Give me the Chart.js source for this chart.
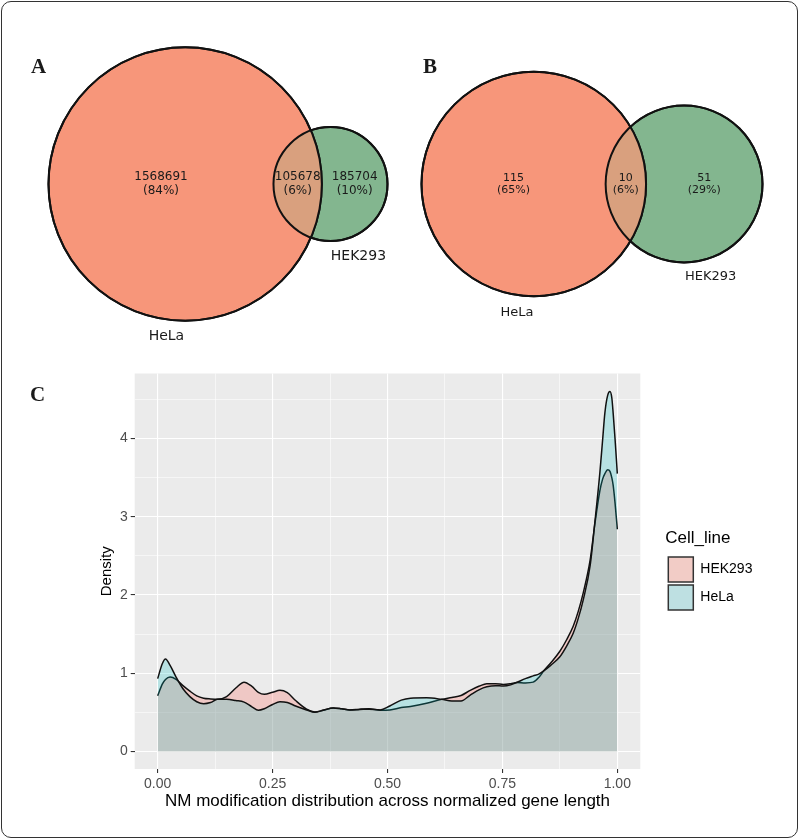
<!DOCTYPE html>
<html lang="en">
<head>
  <meta charset="UTF-8">
  <title>NM modification sites: HeLa vs HEK293</title>
  <script src="https://cdn.jsdelivr.net/npm/chart.js"></script>
  <style>
    body {
      margin: 0;
      background: #fff;
      font-family: 'Liberation Sans', Arial, sans-serif;
    }
    .page {
      position: relative;
      width: 800px;
      height: 839px;
    }
    .frame {
      position: absolute;
      left: 1px;
      top: 1px;
      width: 797px;
      height: 837px;
      box-sizing: border-box;
      border: 1.5px solid #333;
      border-radius: 10px;
    }
    canvas {
      position: absolute;
    }
    .tag {
      position: absolute;
      font: bold 21px 'Liberation Serif', 'Times New Roman', serif;
      line-height: 1;
      color: #1a1a1a;
    }
  </style>
</head>
<body>
  <div class="page">
    <div class="frame"></div>
    <canvas id="vennSites" width="400" height="360" style="left:0;top:0"></canvas>
    <canvas id="vennGenes" width="400" height="360" style="left:400px;top:0"></canvas>
    <canvas id="density" width="800" height="475" style="left:0;top:360px"></canvas>
    <div class="tag" style="left:31px;top:56px">A</div>
    <div class="tag" style="left:423px;top:56px">B</div>
    <div class="tag" style="left:30px;top:384px">C</div>
  </div>

  <script>
    // ---- data ----
    const setNames = ['HeLa', 'HEK293'];
    // region counts: [HeLa only, shared, HEK293 only]
    const siteCounts = [1568691, 105678, 185704];
    const geneCounts = [115, 10, 51];

    const cellLines = ['HEK293', 'HeLa'];
    const genePos = [0, 0.01, 0.017, 0.027, 0.04, 0.055, 0.07, 0.085, 0.1, 0.115,
      0.13, 0.15, 0.17, 0.188, 0.205, 0.219, 0.232, 0.25, 0.266, 0.282,
      0.3, 0.324, 0.342, 0.36, 0.382, 0.4, 0.418, 0.44, 0.46, 0.484,
      0.505, 0.53, 0.55, 0.585, 0.618, 0.64, 0.66, 0.68, 0.7, 0.716,
      0.735, 0.752, 0.768, 0.781, 0.8, 0.817, 0.83, 0.84, 0.855, 0.875,
      0.89, 0.904, 0.915, 0.926, 0.941, 0.951, 0.962, 0.968, 0.973, 0.979,
      0.984, 0.988, 0.991, 0.995, 1];
    const densityHEK293 = [0.71, 0.86, 0.92, 0.95, 0.92, 0.84, 0.77, 0.71, 0.68, 0.67,
      0.665, 0.70, 0.81, 0.885, 0.83, 0.755, 0.73, 0.755, 0.78, 0.75,
      0.65, 0.54, 0.505, 0.525, 0.555, 0.545, 0.53, 0.54, 0.545, 0.525,
      0.53, 0.56, 0.575, 0.615, 0.665, 0.69, 0.715, 0.78, 0.835, 0.865,
      0.865, 0.855, 0.865, 0.88, 0.875, 0.885, 0.95, 1.03, 1.13, 1.28,
      1.43, 1.6, 1.79, 2.03, 2.45, 2.9, 3.33, 3.48, 3.55, 3.6,
      3.58, 3.5, 3.4, 3.18, 2.84];
    const densityHeLa = [0.93, 1.12, 1.18, 1.1, 0.95, 0.8, 0.7, 0.635, 0.61, 0.625,
      0.665, 0.665, 0.65, 0.63, 0.57, 0.525, 0.545, 0.6, 0.635, 0.625,
      0.58, 0.53, 0.5, 0.525, 0.555, 0.545, 0.53, 0.535, 0.54, 0.53,
      0.58, 0.655, 0.68, 0.685, 0.665, 0.645, 0.645, 0.72, 0.79, 0.825,
      0.84, 0.835, 0.85, 0.88, 0.93, 0.965, 0.99, 1.03, 1.1, 1.21,
      1.35, 1.51, 1.7, 1.94, 2.38, 2.92, 3.56, 3.98, 4.33, 4.55,
      4.6, 4.52, 4.32, 4.0, 3.55];
    const xTicks = [0, 0.25, 0.5, 0.75, 1];
    const yTicks = [0, 1, 2, 3, 4];

    Chart.defaults.font.family = "'Liberation Sans', Arial, sans-serif";

    // ---- venn helpers ----
    function lensArea(r1, r2, d) {
      if (d >= r1 + r2) return 0;
      if (d <= Math.abs(r1 - r2)) return Math.PI * Math.min(r1, r2) ** 2;
      const a1 = Math.acos((d * d + r1 * r1 - r2 * r2) / (2 * d * r1));
      const a2 = Math.acos((d * d + r2 * r2 - r1 * r1) / (2 * d * r2));
      const k = Math.sqrt((-d + r1 + r2) * (d + r1 - r2) * (d - r1 + r2) * (d + r1 + r2));
      return r1 * r1 * a1 + r2 * r2 * a2 - k / 2;
    }

    // distance between centres so that the lens area equals the shared count
    function centreDistance(r1, r2, shared) {
      let lo = Math.abs(r1 - r2), hi = r1 + r2;
      for (let i = 0; i < 60; i++) {
        const mid = (lo + hi) / 2;
        if (lensArea(r1, r2, mid) > shared) lo = mid; else hi = mid;
      }
      return (lo + hi) / 2;
    }

    const unitPx = chart => chart.scales.x.getPixelForValue(1) - chart.scales.x.getPixelForValue(0);
    const rad = deg => deg * Math.PI / 180;

    const vennText = {
      id: 'vennText',
      afterDatasetsDraw(chart, args, o) {
        const ctx = chart.ctx;
        const a = chart.getDatasetMeta(0).data[0];
        const b = chart.getDatasetMeta(1).data[0];
        const ra = a.options.radius, rb = b.options.radius;

        // shared region
        ctx.save();
        ctx.beginPath();
        ctx.arc(a.x, a.y, ra, 0, Math.PI * 2);
        ctx.clip();
        ctx.beginPath();
        ctx.arc(b.x, b.y, rb, 0, Math.PI * 2);
        ctx.fillStyle = o.lensColor;
        ctx.fill();
        ctx.restore();

        ctx.save();
        ctx.lineWidth = 2;
        ctx.strokeStyle = '#111';
        [[a, ra], [b, rb]].forEach(([p, r]) => {
          ctx.beginPath();
          ctx.arc(p.x, p.y, r, 0, Math.PI * 2);
          ctx.stroke();
        });

        const total = o.counts.reduce((s, v) => s + v, 0);
        const xs = [
          (a.x - ra + b.x - rb) / 2,
          (b.x - rb + a.x + ra) / 2,
          (a.x + ra + b.x + rb) / 2
        ];
        ctx.fillStyle = '#1a1a1a';
        ctx.textAlign = 'center';
        ctx.textBaseline = 'middle';
        ctx.font = o.numSize + 'px "DejaVu Sans"';
        o.counts.forEach((c, i) => {
          ctx.fillText(String(c), xs[i], a.y - o.gap / 2);
          ctx.fillText('(' + Math.round(c / total * 100) + '%)', xs[i], a.y + o.gap / 2);
        });

        ctx.font = o.nameSize + 'px "DejaVu Sans"';
        [[a, ra], [b, rb]].forEach(([p, r], i) => {
          const d = r + o.nameOff[i], t = rad(o.nameAngle[i]);
          ctx.fillText(o.names[i], p.x + d * Math.sin(t), p.y + d * Math.cos(t));
        });
        ctx.restore();
      }
    };

    function makeVenn(id, counts, place, text) {
      const r1 = Math.sqrt((counts[0] + counts[1]) / Math.PI);
      const r2 = Math.sqrt((counts[2] + counts[1]) / Math.PI);
      const d = centreDistance(r1, r2, counts[1]);
      const canvas = document.getElementById(id);
      const s = place.width / (r1 + d + r2);
      const mid = (d + r2 - r1) / 2;

      return new Chart(canvas, {
        type: 'scatter',
        data: {
          datasets: [
            { label: setNames[0], data: [{ x: 0, y: 0, r: r1 }], pointBackgroundColor: '#F7967A' },
            { label: setNames[1], data: [{ x: d, y: 0, r: r2 }], pointBackgroundColor: '#83B68F' }
          ]
        },
        options: {
          responsive: false,
          animation: false,
          events: [],
          layout: { padding: 0 },
          datasets: {
            scatter: {
              clip: false,
              pointBorderColor: '#111',
              pointBorderWidth: 2,
              pointRadius: ctx => ctx.raw ? ctx.raw.r * unitPx(ctx.chart) : 0
            }
          },
          scales: {
            x: { type: 'linear', display: false, bounds: 'data',
                 min: mid - place.cx / s, max: mid + (canvas.width - place.cx) / s },
            y: { type: 'linear', display: false, bounds: 'data',
                 min: -(canvas.height - place.cy) / s, max: place.cy / s }
          },
          plugins: {
            legend: { display: false },
            tooltip: { enabled: false },
            vennText: Object.assign({ counts, names: setNames, lensColor: '#D9A07E' }, text)
          }
        },
        plugins: [vennText]
      });
    }

    makeVenn('vennSites', siteCounts, { width: 339, cx: 218, cy: 184 },
      { numSize: 12, gap: 14, nameSize: 14, nameAngle: [-7, 21], nameOff: [17, 21] });
    makeVenn('vennGenes', geneCounts, { width: 341, cx: 192, cy: 184 },
      { numSize: 11, gap: 12.6, nameSize: 13, nameAngle: [-7.5, 16], nameOff: [17, 18] });

    // ---- density panel ----
    const near = (a, b) => Math.abs(a - b) < 1e-9;
    const isMajor = (v, major) => major.some(m => near(m, v));

    function gridTicks(scale, major) {
      const step = (major[1] - major[0]) / 2;
      const vals = [];
      for (let v = major[0] - step; v <= scale.max + 1e-9; v += step) {
        if (v >= scale.min) vals.push(Math.round(v * 1000) / 1000);
      }
      scale.ticks = vals.map(v => ({ value: v }));
    }

    const panelBg = {
      id: 'panelBg',
      beforeDraw(chart) {
        const { ctx, chartArea: a } = chart;
        ctx.save();
        ctx.fillStyle = '#EBEBEB';
        ctx.fillRect(a.left, a.top, a.right - a.left, a.bottom - a.top);
        ctx.restore();
      }
    };

    const legendFill = ['#F2CCC6', '#BEE0E2'];

    const densityChart = new Chart(document.getElementById('density'), {
      type: 'line',
      data: {
        datasets: [
          {
            label: cellLines[0],
            data: genePos.map((x, i) => ({ x, y: densityHEK293[i] })),
            backgroundColor: 'rgba(248, 118, 109, 0.3)',
            order: 1
          },
          {
            label: cellLines[1],
            data: genePos.map((x, i) => ({ x, y: densityHeLa[i] })),
            backgroundColor: 'rgba(0, 191, 196, 0.22)',
            order: 0
          }
        ]
      },
      options: {
        responsive: false,
        animation: false,
        events: [],
        layout: { padding: { top: 13.5, bottom: 19.1, left: 93.5, right: 40 } },
        datasets: {
          line: {
            fill: 'origin',
            borderColor: '#111',
            borderWidth: 1.5,
            pointRadius: 0,
            cubicInterpolationMode: 'monotone'
          }
        },
        scales: {
          x: {
            type: 'linear',
            position: 'bottom',
            min: -0.05,
            max: 1.05,
            bounds: 'data',
            afterBuildTicks: s => gridTicks(s, xTicks),
            afterFit: s => { s.height = 46.9; },
            ticks: {
              autoSkip: false,
              maxRotation: 0,
              padding: 3,
              color: '#4D4D4D',
              font: { size: 14 },
              callback: v => isMajor(v, xTicks) ? v.toFixed(2) : ''
            },
            grid: {
              color: '#fff',
              lineWidth: c => isMajor(c.tick.value, xTicks) ? 1.1 : 0.55,
              tickLength: 4,
              tickWidth: 1.1,
              tickColor: c => isMajor(c.tick.value, xTicks) ? '#333' : 'rgba(0,0,0,0)'
            },
            border: { display: false },
            title: {
              display: true,
              text: 'NM modification distribution across normalized gene length',
              color: '#000',
              font: { size: 17 },
              padding: { top: 4, bottom: 4 }
            }
          },
          y: {
            type: 'linear',
            min: -0.225,
            max: 4.83,
            bounds: 'data',
            afterBuildTicks: s => gridTicks(s, yTicks),
            afterFit: s => { s.width = 41.2; },
            ticks: {
              autoSkip: false,
              padding: 3,
              color: '#4D4D4D',
              font: { size: 14 },
              callback: v => isMajor(v, yTicks) ? String(v) : ''
            },
            grid: {
              color: '#fff',
              lineWidth: c => isMajor(c.tick.value, yTicks) ? 1.1 : 0.55,
              tickLength: 4,
              tickWidth: 1.1,
              tickColor: c => isMajor(c.tick.value, yTicks) ? '#333' : 'rgba(0,0,0,0)'
            },
            border: { display: false },
            title: {
              display: true,
              text: 'Density',
              color: '#000',
              font: { size: 15 },
              padding: { top: 4, bottom: 4 }
            }
          },
          // spacer between the panel and the legend
          gap: {
            position: 'right',
            grid: { display: false },
            ticks: { display: false },
            border: { display: false },
            afterFit: s => { s.width = 25; }
          }
        },
        plugins: {
          tooltip: { enabled: false },
          legend: {
            position: 'right',
            fullSize: false,
            align: 'center',
            title: {
              display: true,
              text: 'Cell_line',
              position: 'start',
              color: '#000',
              font: { size: 17 },
              padding: { top: 0, bottom: 4 }
            },
            labels: {
              boxWidth: 25,
              boxHeight: 25,
              padding: 3,
              color: '#000',
              font: { size: 14 },
              generateLabels: chart => chart.data.datasets.map((ds, i) => ({
                text: ds.label,
                fillStyle: legendFill[i],
                strokeStyle: '#333',
                lineWidth: 1.5,
                hidden: false,
                datasetIndex: i
              }))
            }
          }
        }
      },
      plugins: [panelBg]
    });

    // pin the panel's right edge
    const pad = densityChart.options.layout.padding;
    densityChart.options.layout.padding = {
      top: pad.top, bottom: pad.bottom, left: pad.left,
      right: pad.right + (densityChart.chartArea.right - 640.3)
    };
    densityChart.update();
  </script>
</body>
</html>
